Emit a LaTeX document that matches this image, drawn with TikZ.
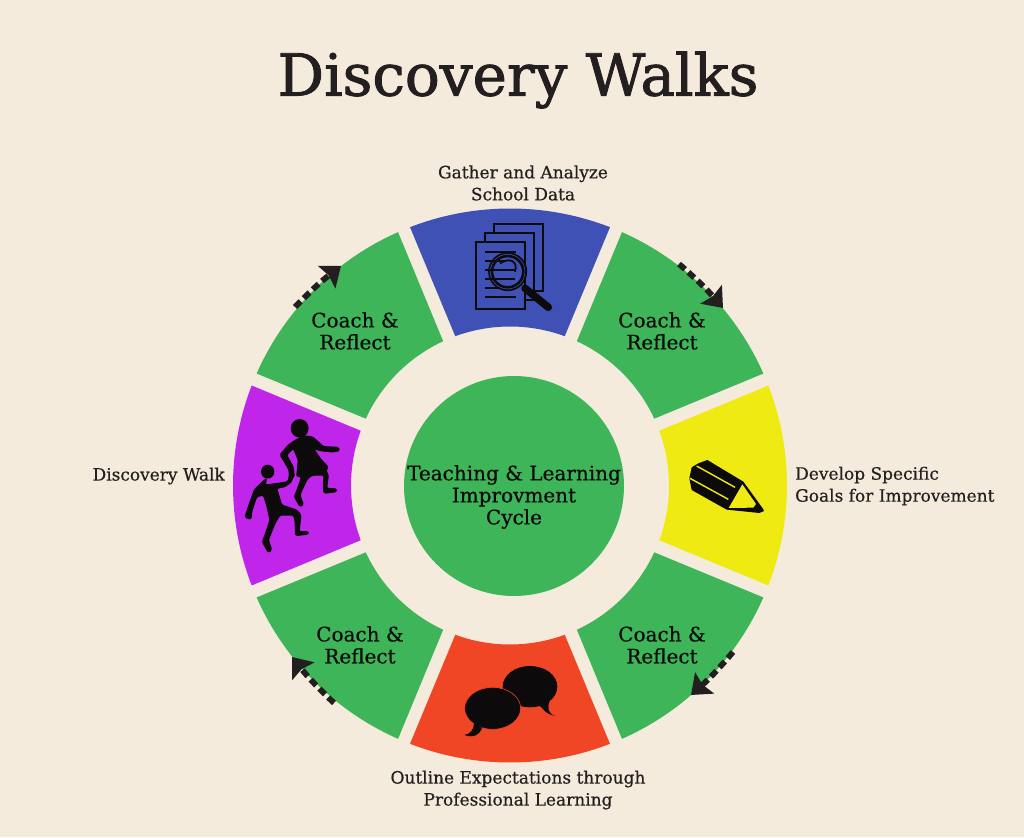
\documentclass[tikz,border=0pt]{standalone}
\usepackage{fontspec}
\usetikzlibrary{arrows.meta}
\newfontfamily\slab[FakeBold=0.5]{DejaVu Serif}
\newfontfamily\slabt[FakeBold=1.5]{DejaVu Serif}
\definecolor{bgc}{HTML}{F5EBDC}
\definecolor{grn}{HTML}{3FB55A}
\definecolor{blu}{HTML}{3F51B5}
\definecolor{pur}{HTML}{C026EA}
\definecolor{yel}{HTML}{EFEB12}
\definecolor{redc}{HTML}{F04626}
\definecolor{ink}{HTML}{231F20}
\definecolor{blk}{HTML}{0C0A0A}
\tikzset{
  label text/.style={font=\slab\fontsize{17}{22}\selectfont,text=ink,align=center,inner sep=0pt},
  seg text/.style={font=\slab\fontsize{20}{22}\selectfont,text=blk,align=center,inner sep=0pt},
  walk arrow/.style={draw=ink,line width=5.8pt,dash pattern=on 8pt off 4.5pt,
     -{Stealth[length=18pt,width=28pt,inset=2.5pt]}},
  icon/.style={x=0.33333pt,y=-0.33333pt},
  figure fill/.style={fill=blk,draw=blk,line width=1.1pt,line join=round,rounded corners=1.5pt}
}
\newcommand{\sector}[2]{%
  \fill[#2] (#1-21.16:277) arc[start angle=#1-21.16,end angle=#1+21.16,radius=277]
    -- (#1+20.14:159) arc[start angle=#1+20.14,end angle=#1-20.14,radius=159] -- cycle;}
\begin{document}
\begin{tikzpicture}[x=1pt,y=1pt]
\useasboundingbox (0,0) rectangle (1024,837);
\fill[bgc] (0,0) rectangle (1024,837);

\begin{scope}[shift={(510,351.5)}]
  \sector{90}{blu}
  \sector{45}{grn}
  \sector{0}{yel}
  \sector{-45}{grn}
  \sector{-90}{redc}
  \sector{-135}{grn}
  \sector{180}{pur}
  \sector{135}{grn}
\end{scope}

\node[circle,fill=grn,minimum size=220pt,inner sep=0pt] (hub) at (514,837-486) {};
\node[seg text] (hubtext) at (514,837-497) {Teaching \& Learning\\Improvment\\Cycle};

\node[inner sep=0pt,text=ink,font=\slabt\fontsize{58}{60}\selectfont] (title) at (518,837-80) {Discovery Walks};

\node[label text] (gather) at (523,837-183) {Gather and Analyze\\School Data};
\node[label text,align=left,anchor=west] (develop) at (795,837-486) {Develop Specific\\Goals for Improvement};
\node[label text] (outline) at (518,837-790) {Outline Expectations through\\Professional Learning};
\node[label text,anchor=east] (walk) at (225,837-476) {Discovery Walk};

\node[seg text] (c1) at (355,837-331) {Coach \&\\Reflect};
\node[seg text] (c2) at (662,837-331) {Coach \&\\Reflect};
\node[seg text] (c3) at (662,837-645) {Coach \&\\Reflect};
\node[seg text] (c4) at (360,837-645) {Coach \&\\Reflect};

% dashed arrows
\coordinate (a1s) at (679,837-264); \coordinate (a1e) at (723,837-308);
\coordinate (a2s) at (295,837-307); \coordinate (a2e) at (341,837-266);
\coordinate (a3s) at (733,837-652); \coordinate (a3e) at (691,837-695);
\coordinate (a4s) at (334,837-703); \coordinate (a4e) at (292,837-657);
\draw[walk arrow] (a1s) to[bend left=4] (a1e);
\draw[walk arrow] (a2s) to[bend left=4] (a2e);
\draw[walk arrow] (a3s) to[bend left=4] (a3e);
\draw[walk arrow] (a4s) to[bend left=4] (a4e);

% documents and magnifier
\begin{scope}[shift={(400,637)},icon]
  \draw[blk,line width=2.1pt] (283,100) -- (283,72) -- (430,72) -- (430,272) -- (403,272);
  \draw[blk,line width=2.1pt] (255,127) -- (255,100) -- (403,100) -- (403,300) -- (375,300);
  \draw[blk,line width=2.1pt] (228,127) rectangle (375,327);
  \foreach \yy in {155,182,210,237,265,292}
    \draw[blk,line width=1.7pt] (255,\yy) -- (348,\yy);
  \fill[blu] (323,215) circle[radius=53];
  \draw[blk,line width=1.6pt] (323,215) circle[radius=56];
  \draw[blk,line width=2.6pt] (323,215) circle[radius=47];
  \draw[blk,line width=1.7pt] (270,182) -- (318,182);
  \draw[blk,line width=1.7pt] (270,210) -- (345,210);
  \draw[blk,line width=1.7pt] (270,237) -- (345,237);
  \draw[blk,line width=1.8pt] (300,190) .. controls (330,170) and (355,185) .. (345,215);
  \draw[blk,line width=7.5pt,line cap=round] (375,265) -- (445,322);
\end{scope}

% pencil
\begin{scope}[shift={(650,457)},icon]
  \fill[blk] (145,250) -- (172,240) -- (280,305) -- (338,385) -- (342,393) -- (328,399) -- (230,389) -- (125,330) -- (118,295) -- (125,262) -- cycle;
  \fill[yel] (277,313) -- (318,372) -- (310,383) -- (236,384) -- cycle;
  \draw[yel,line width=1.4pt] (140,258) -- (255,322);
  \draw[yel,line width=1.4pt] (120,295) -- (235,358);
\end{scope}

% speech bubbles
\begin{scope}[shift={(400,207)},icon]
  \fill[blk] (390,170) ellipse[x radius=82,y radius=62];
  \fill[blk] (415,225) .. controls (430,232) and (430,250) .. (465,258)
     .. controls (445,250) and (440,235) .. (450,210) -- cycle;
  \fill[blk,draw=redc,line width=0.6pt] (278,235) ellipse[x radius=84,y radius=63];
  \fill[blk] (222,280) .. controls (222,300) and (210,312) .. (193,315)
     .. controls (220,325) and (240,315) .. (246,293) -- cycle;
\end{scope}

% walkers
\begin{scope}[shift={(225,457)},icon]
  \fill[blk] (224,145) ellipse[x radius=27,y radius=28];
  \path[figure fill] (215,178) -- (240,168) -- (262,170) -- (295,200) -- (340,202) -- (344,212) -- (322,216) -- (285,212) -- (265,205) -- (285,235) -- (310,262) -- (302,272) -- (310,285) -- (305,325) -- (335,327) -- (335,335) -- (297,340) -- (295,320) -- (297,285) -- (265,285) -- (250,293) -- (240,310) -- (225,345) -- (235,375) -- (225,380) -- (208,350) -- (220,320) -- (230,290) -- (215,290) -- (220,240) -- (205,205) -- (185,225) -- (205,262) -- (208,290) -- (195,300) -- (192,270) -- (175,240) -- (165,225) -- (190,195) -- cycle;
  \fill[blk] (128,275) ellipse[x radius=20,y radius=21];
  \path[figure fill] (125,295) -- (120,315) -- (160,310) -- (190,305) -- (195,270) -- (205,275) -- (200,305) -- (180,320) -- (155,325) -- (170,375) -- (215,390) -- (228,405) -- (222,455) -- (250,455) -- (250,462) -- (212,467) -- (210,420) -- (205,405) -- (165,405) -- (150,430) -- (130,480) -- (140,510) -- (130,518) -- (112,485) -- (120,465) -- (135,420) -- (125,375) -- (115,345) -- (95,350) -- (80,395) -- (78,418) -- (60,412) -- (65,395) -- (88,330) -- (100,317) -- cycle;
\end{scope}
\end{tikzpicture}
\end{document}
